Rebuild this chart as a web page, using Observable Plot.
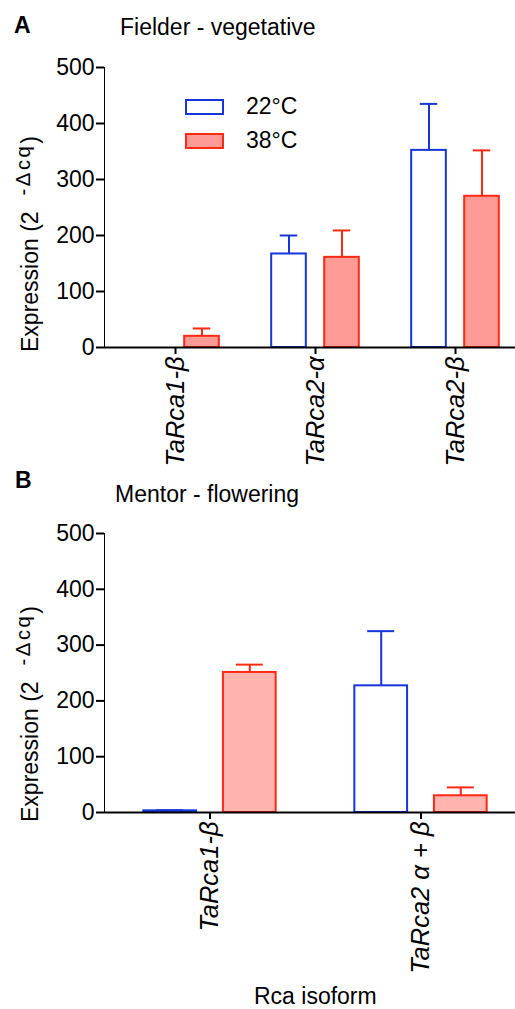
<!DOCTYPE html>
<html><head><meta charset="utf-8">
<script src="https://cdn.jsdelivr.net/npm/d3@7"></script>
<script src="https://cdn.jsdelivr.net/npm/@observablehq/plot@0.6"></script>
<style>
body{margin:0;background:#fff;}
#wrap{position:relative;width:515px;height:1009px;overflow:hidden;font-family:"Liberation Sans",Arial,Helvetica,sans-serif;color:#000;}
.abs{position:absolute;white-space:nowrap;line-height:1;}
.pl{position:absolute;left:0;}
</style></head><body><div id="wrap"></div>
<script>
// ---- data ----
const groupsA = ["TaRca1-β", "TaRca2-α", "TaRca2-β"];
const meanA22 = [0, 167, 352];
const errA22  = [0, 33, 83];
const meanA38 = [20, 161, 270];
const errA38  = [14, 48, 82];

const groupsB = ["TaRca1-β", "TaRca2 α + β"];
const meanB22 = [3, 227];
const errB22  = [1, 98];
const meanB38 = [251, 30];
const errB38  = [14, 15];

const seriesNames = ["22°C", "38°C"];
const yTicks = [0, 100, 200, 300, 400, 500];

// ---- styles ----
const BLUE = "#1636d8";
const RED = "#ff2a14";
const FILL_A = "#ff9b96";
const FILL_B = "#ffb4af";
const FONT = '"Liberation Sans", Arial, Helvetica, sans-serif';

function panel(groups, m22, e22, m38, e38, o) {
  const n = groups.length;
  const bw = o.step;
  const rows = groups.map((g, i) => ({g, m22: m22[i], e22: e22[i], m38: m38[i], e38: e38[i]}));
  const off = 0.1886 * bw;
  const barIn = 0.1864 * bw, barOut = 0.5636 * bw;
  const capIn = 0.2474 * bw, capOut = 0.6246 * bw;
  const r22 = rows.filter(d => d.e22 > 0), r38 = rows.filter(d => d.e38 > 0);
  const svg = Plot.plot({
    width: 515, height: o.height,
    marginLeft: 104, marginRight: 0, marginTop: o.mt, marginBottom: o.mb,
    style: {fontSize: "23px", fontFamily: FONT, background: "transparent", color: "#000", overflow: "visible"},
    x: {domain: groups, range: [104, 104 + n * bw], padding: 0, tickSize: 7, tickPadding: 2, tickRotate: -90, label: null},
    y: {domain: [0, 500], ticks: yTicks, tickSize: 8, tickPadding: 2, line: true, label: null},
    marks: [
      Plot.ruleX(r22, {x: "g", y1: "m22", y2: d => d.m22 + d.e22, dx: -off, stroke: BLUE, strokeWidth: 2}),
      Plot.tickY(r22, {x: "g", y: d => d.m22 + d.e22, insetLeft: capIn, insetRight: capOut, stroke: BLUE, strokeWidth: 2}),
      Plot.barY(rows, {x: "g", y: "m22", insetLeft: barIn, insetRight: barOut, fill: "white", stroke: BLUE, strokeWidth: 2}),
      Plot.ruleX(r38, {x: "g", y1: "m38", y2: d => d.m38 + d.e38, dx: off, stroke: RED, strokeWidth: 2}),
      Plot.tickY(r38, {x: "g", y: d => d.m38 + d.e38, insetLeft: capOut, insetRight: capIn, stroke: RED, strokeWidth: 2}),
      Plot.barY(rows, {x: "g", y: "m38", insetLeft: barOut, insetRight: barIn, fill: o.fill, stroke: RED, strokeWidth: 2}),
      Plot.ruleY([0], {stroke: "#000", strokeWidth: 2})
    ]
  });
  const s = d3.select(svg);
  s.selectAll("g[aria-label*='axis'] line, g[aria-label*='axis'] path").attr("stroke-width", 2).attr("stroke", "#000");
  s.selectAll("text").each(function() {
    if (groups.includes(this.textContent)) d3.select(this).style("font-style", "italic").style("font-size", "25.5px");
  });
  svg.classList.add("pl");
  svg.style.top = o.top + "px";
  return svg;
}

const wrap = document.getElementById("wrap");
wrap.appendChild(panel(groupsA, meanA22, errA22, meanA38, errA38, {step: 140.5, height: 470, mt: 67, mb: 123, top: 0, fill: FILL_A}));
wrap.appendChild(panel(groupsB, meanB22, errB22, meanB38, errB38, {step: 211, height: 539, mt: 63, mb: 197, top: 470, fill: FILL_B}));

function addText(html, css) {
  const d = document.createElement("div");
  d.className = "abs";
  d.innerHTML = html;
  Object.assign(d.style, css);
  wrap.appendChild(d);
  return d;
}
// panel letters and titles
addText("A", {left: "14px", top: "13.5px", fontSize: "23px", fontWeight: "bold"});
addText("Fielder - vegetative", {left: "120px", top: "15.5px", fontSize: "23px"});
addText("B", {left: "15px", top: "468.5px", fontSize: "23px", fontWeight: "bold"});
addText("Mentor - flowering", {left: "115px", top: "482.5px", fontSize: "23px"});
// y labels
const yLab = 'Expression (2<span style="display:inline-block;width:16px"></span><sup style="font-size:0.88em;vertical-align:0.4em;letter-spacing:2.5px;">-Δcq</sup>)';
[352, 822].forEach(t => addText(yLab, {left: "13px", top: t + "px", fontSize: "23px", transform: "rotate(-90deg)", transformOrigin: "left top"}));
// x label
addText("Rca isoform", {left: "254px", top: "985px", fontSize: "23px"});
// legend
const sw = [{c: BLUE, f: "white"}, {c: RED, f: FILL_A}];
seriesNames.forEach((name, i) => {
  const d = document.createElement("div");
  Object.assign(d.style, {position: "absolute", left: "185px", top: (99 + 34 * i) + "px", width: "39px", height: "16px", boxSizing: "border-box", border: "2px solid " + sw[i].c, background: sw[i].f});
  wrap.appendChild(d);
  addText(name, {left: "246px", top: (94.5 + 34 * i) + "px", fontSize: "23px"});
});
</script>
</body></html>
